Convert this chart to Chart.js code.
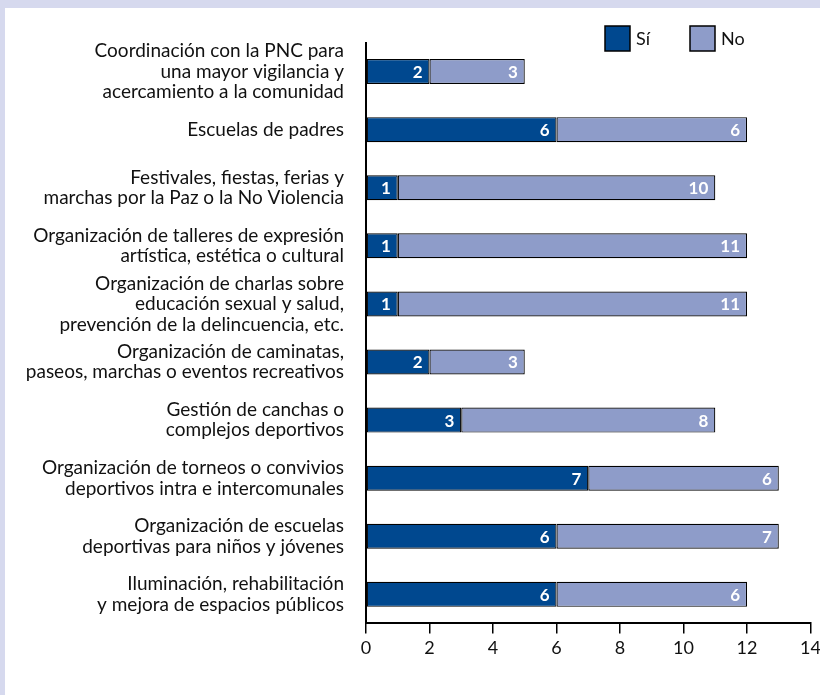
<!DOCTYPE html>
<html>
<head>
<meta charset="utf-8">
<script src="https://cdn.jsdelivr.net/npm/chart.js@4"></script>
<style>
  html, body { margin: 0; padding: 0; background: #d6d9ee; overflow: hidden; width: 820px; height: 695px; }
  #panel { position: absolute; left: 5px; top: 8px; width: 820px; height: 687px; background: #fff; }
</style>
</head>
<body>
<div id="panel"><canvas id="actChart"></canvas></div>
<script>
const categories = [
  ["Coordinación con la PNC para", "una mayor vigilancia y", "acercamiento a la comunidad"],
  ["Escuelas de padres"],
  ["Festivales, fiestas, ferias y", "marchas por la Paz o la No Violencia"],
  ["Organización de talleres de expresión", "artística, estética o cultural"],
  ["Organización de charlas sobre", "educación sexual y salud,", "prevención de la delincuencia, etc."],
  ["Organización de caminatas,", "paseos, marchas o eventos recreativos"],
  ["Gestión de canchas o", "complejos deportivos"],
  ["Organización de torneos o convivios", "deportivos intra e intercomunales"],
  ["Organización de escuelas", "deportivas para niños y jóvenes"],
  ["Iluminación, rehabilitación", "y mejora de espacios públicos"]
];
const siValues = [2, 6, 1, 1, 1, 2, 3, 7, 6, 6];
const noValues = [3, 6, 10, 11, 11, 3, 8, 6, 7, 6];
const xTicks = [0, 2, 4, 6, 8, 10, 12, 14];

const FONT = "Lato, 'Open Sans', sans-serif";

// white numbers at the end of each bar segment
const barValues = {
  id: "barValues",
  afterDatasetsDraw(chart) {
    const ctx = chart.ctx;
    ctx.save();
    ctx.fillStyle = "#fff";
    ctx.font = "bold 17px " + FONT;
    ctx.textAlign = "right";
    ctx.textBaseline = "middle";
    chart.data.datasets.forEach((ds, i) => {
      chart.getDatasetMeta(i).data.forEach((bar, j) => {
        ctx.fillText(ds.data[j], bar.x - 7, bar.y + 1);
      });
    });
    ctx.restore();
  }
};

// legend drawn top right, square boxes
const boxLegend = {
  id: "boxLegend",
  afterDraw(chart) {
    const ctx = chart.ctx;
    ctx.save();
    ctx.font = "18px " + FONT;
    ctx.textBaseline = "middle";
    ctx.textAlign = "left";
    let x = 600;
    const y = 18;
    chart.data.datasets.forEach((ds) => {
      ctx.fillStyle = ds.backgroundColor;
      ctx.fillRect(x, y, 25, 25);
      ctx.strokeStyle = "#000";
      ctx.lineWidth = 1.5;
      ctx.strokeRect(x, y, 25, 25);
      ctx.fillStyle = "#111";
      ctx.fillText(ds.label, x + 31, y + 13);
      x += 85;
    });
    ctx.restore();
  }
};

new Chart(document.getElementById("actChart"), {
  type: "bar",
  data: {
    labels: categories,
    datasets: [
      {
        label: "Sí",
        data: siValues,
        backgroundColor: "#00488f",
        borderColor: "#000",
        borderWidth: 1.2,
        borderSkipped: false
      },
      {
        label: "No",
        data: noValues,
        backgroundColor: "#8e9cc9",
        borderColor: "#000",
        borderWidth: 1.2,
        borderSkipped: false
      }
    ]
  },
  options: {
    indexAxis: "y",
    responsive: true,
    maintainAspectRatio: false,
    animation: false,
    barPercentage: 0.43,
    categoryPercentage: 1,
    layout: { padding: { top: 27, right: 0, bottom: 32, left: 0 } },
    plugins: {
      legend: { display: false },
      tooltip: { enabled: false }
    },
    scales: {
      x: {
        stacked: true,
        min: 0,
        max: 14,
        afterBuildTicks: (axis) => { axis.ticks = xTicks.map((v) => ({ value: v })); },
        ticks: { color: "#111", font: { family: FONT, size: 18 }, padding: 4 },
        grid: { drawOnChartArea: false, drawTicks: true, tickLength: 10, color: "#000", lineWidth: 1.5 },
        border: { color: "#000", width: 2 }
      },
      y: {
        stacked: true,
        afterFit: (axis) => { axis.width = 361; },
        ticks: { autoSkip: false, color: "#111", font: { family: FONT, size: 19, lineHeight: 1.08 }, padding: 14 },
        grid: { display: false },
        border: { color: "#000", width: 2 }
      }
    }
  },
  plugins: [barValues, boxLegend]
});
</script>
</body>
</html>
